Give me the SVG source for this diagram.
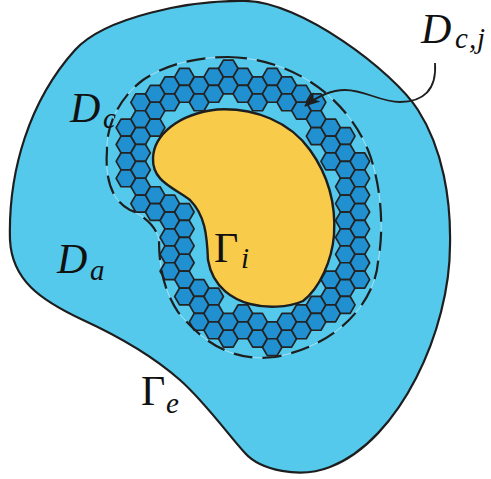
<svg xmlns="http://www.w3.org/2000/svg" xmlns:xlink="http://www.w3.org/1999/xlink" width="491" height="479" viewBox="0 0 491 479">
<style>
.lbl{font-family:"Liberation Serif","DejaVu Serif",serif;fill:#111}
.it{font-style:italic}
.big{font-size:42px}
.sub{font-size:29px}
.hx{fill:#2090D0;stroke:#232323;stroke-width:1.7;stroke-linejoin:round}
.edge{fill:none;stroke:#1e1e1e;stroke-linejoin:round}
</style>
<defs>
<polygon id="hx" class="hx" points="-9.75,0 -4.875,-8.444 4.875,-8.444 9.75,0 4.875,8.444 -4.875,8.444"/>
<marker id="ah" markerUnits="userSpaceOnUse" viewBox="0 0 16 12" refX="15" refY="6" markerWidth="16" markerHeight="12" orient="auto">
<path d="M0,0 L16,6 L0,12 L4,6 Z" fill="#1e1e1e"/>
</marker>
</defs>
<g id="outer-domain">
<path d="M 10,240 C 8,170 30,100 75,50 C 105,17 190,0 245,1 C 300,1 393,71 418,110 C 443,149 451,200 450,245 C 450,330 400,440 330,467 C 300,479 260,470 245,453 C 230,437 205,402 180,380 C 155,358 120,337 83,320 C 40,300 12,280 10,240 Z" fill="#55C9EC" stroke="#1e1e1e" stroke-width="2.2"/>
</g>
<g id="dc-boundary">
<path id="dc" d="M 228,57 C 290,58 345,95 368,150 C 380,180 385,225 378,262 C 375,300 340,345 275,357 C 235,362 205,345 178,312 C 165,292 159,270 159,240 C 157,228 145,216 130,210 C 110,200 105,175 107,150 C 106,125 120,97 143,80 C 165,65 195,57 228,57 Z" fill="none" stroke="#bfe9f7" stroke-width="0.8"/>
</g>
<g id="cells">
<use href="#hx" x="125.9" y="127.6"/><use href="#hx" x="125.9" y="144.5"/><use href="#hx" x="125.9" y="161.4"/><use href="#hx" x="125.9" y="178.3"/>
<use href="#hx" x="140.6" y="102.3"/><use href="#hx" x="140.6" y="119.2"/><use href="#hx" x="140.6" y="136.1"/><use href="#hx" x="140.6" y="152.9"/><use href="#hx" x="140.6" y="169.8"/><use href="#hx" x="140.6" y="186.7"/><use href="#hx" x="140.6" y="203.6"/>
<use href="#hx" x="155.2" y="93.8"/><use href="#hx" x="155.2" y="110.7"/><use href="#hx" x="155.2" y="127.6"/><use href="#hx" x="155.2" y="195.2"/><use href="#hx" x="155.2" y="212.0"/>
<use href="#hx" x="169.8" y="85.4"/><use href="#hx" x="169.8" y="102.3"/><use href="#hx" x="169.8" y="203.6"/><use href="#hx" x="169.8" y="220.5"/><use href="#hx" x="169.8" y="237.4"/><use href="#hx" x="169.8" y="254.3"/><use href="#hx" x="169.8" y="271.2"/>
<use href="#hx" x="184.4" y="76.9"/><use href="#hx" x="184.4" y="93.8"/><use href="#hx" x="184.4" y="212.0"/><use href="#hx" x="184.4" y="228.9"/><use href="#hx" x="184.4" y="245.8"/><use href="#hx" x="184.4" y="262.7"/><use href="#hx" x="184.4" y="279.6"/><use href="#hx" x="184.4" y="296.5"/>
<use href="#hx" x="199.1" y="85.4"/><use href="#hx" x="199.1" y="102.3"/><use href="#hx" x="199.1" y="288.0"/><use href="#hx" x="199.1" y="304.9"/><use href="#hx" x="199.1" y="321.8"/>
<use href="#hx" x="213.7" y="76.9"/><use href="#hx" x="213.7" y="93.8"/><use href="#hx" x="213.7" y="296.5"/><use href="#hx" x="213.7" y="313.4"/><use href="#hx" x="213.7" y="330.3"/>
<use href="#hx" x="228.3" y="68.5"/><use href="#hx" x="228.3" y="85.4"/><use href="#hx" x="228.3" y="321.8"/><use href="#hx" x="228.3" y="338.7"/>
<use href="#hx" x="242.9" y="76.9"/><use href="#hx" x="242.9" y="93.8"/><use href="#hx" x="242.9" y="313.4"/><use href="#hx" x="242.9" y="330.3"/>
<use href="#hx" x="257.6" y="85.4"/><use href="#hx" x="257.6" y="102.3"/><use href="#hx" x="257.6" y="321.8"/><use href="#hx" x="257.6" y="338.7"/>
<use href="#hx" x="272.2" y="76.9"/><use href="#hx" x="272.2" y="93.8"/><use href="#hx" x="272.2" y="330.3"/><use href="#hx" x="272.2" y="347.2"/>
<use href="#hx" x="286.8" y="85.4"/><use href="#hx" x="286.8" y="102.3"/><use href="#hx" x="286.8" y="321.8"/><use href="#hx" x="286.8" y="338.7"/>
<use href="#hx" x="301.4" y="93.8"/><use href="#hx" x="301.4" y="110.7"/><use href="#hx" x="301.4" y="313.4"/><use href="#hx" x="301.4" y="330.3"/>
<use href="#hx" x="316.1" y="102.3"/><use href="#hx" x="316.1" y="119.2"/><use href="#hx" x="316.1" y="136.1"/><use href="#hx" x="316.1" y="304.9"/><use href="#hx" x="316.1" y="321.8"/>
<use href="#hx" x="330.7" y="127.6"/><use href="#hx" x="330.7" y="144.5"/><use href="#hx" x="330.7" y="161.4"/><use href="#hx" x="330.7" y="279.6"/><use href="#hx" x="330.7" y="296.5"/><use href="#hx" x="330.7" y="313.4"/>
<use href="#hx" x="345.3" y="136.1"/><use href="#hx" x="345.3" y="152.9"/><use href="#hx" x="345.3" y="169.8"/><use href="#hx" x="345.3" y="186.7"/><use href="#hx" x="345.3" y="203.6"/><use href="#hx" x="345.3" y="220.5"/><use href="#hx" x="345.3" y="237.4"/><use href="#hx" x="345.3" y="254.3"/><use href="#hx" x="345.3" y="271.2"/><use href="#hx" x="345.3" y="288.0"/><use href="#hx" x="345.3" y="304.9"/>
<use href="#hx" x="359.9" y="161.4"/><use href="#hx" x="359.9" y="178.3"/><use href="#hx" x="359.9" y="195.2"/><use href="#hx" x="359.9" y="212.0"/><use href="#hx" x="359.9" y="228.9"/><use href="#hx" x="359.9" y="245.8"/><use href="#hx" x="359.9" y="262.7"/><use href="#hx" x="359.9" y="279.6"/>
</g>
<g id="inner-obstacle">
<path d="M 217,109.5 C 255,107.5 290,122 310,150 C 328,175 336,205 334,235 C 332,260 320,288 303,301 C 288,308 265,308 250,304 C 235,300 213,289 208,260 C 207,235 205,215 190,200 C 175,188 152,182 153,158 C 154,135 178,114 217,109.5 Z" fill="#F9CB4A" stroke="#1e1e1e" stroke-width="2.4"/>
</g>
<g id="dc-dashed">
<path d="M 228,57 C 290,58 345,95 368,150 C 380,180 385,225 378,262 C 375,300 340,345 275,357 C 235,362 205,345 178,312 C 165,292 159,270 159,240 C 157,228 145,216 130,210 C 110,200 105,175 107,150 C 106,125 120,97 143,80 C 165,65 195,57 228,57 Z" class="edge" stroke-width="2.2" stroke-dasharray="19 10"/>
</g>
<g id="connectors">
<path d="M 435,63 C 437,90 423,102 400,102 C 380,102 365,90 345,90 C 330,90 318,96 305,106" class="edge" stroke-width="1.8" marker-end="url(#ah)"/>
</g>
<g id="labels">
<text class="lbl it big" x="421" y="43">D</text><text class="lbl it sub" y="48"><tspan x="455">c</tspan><tspan x="469">,</tspan><tspan x="477">j</tspan></text>
<text class="lbl it big" x="70" y="122">D</text><text class="lbl it sub" x="103" y="128">c</text>
<text class="lbl it big" x="57" y="273">D</text><text class="lbl it sub" x="90" y="280">a</text>
<text class="lbl big" x="214" y="262">Γ</text><text class="lbl it sub" x="241" y="268">i</text>
<text class="lbl big" x="141" y="405">Γ</text><text class="lbl it sub" x="166" y="413">e</text>
</g>
</svg>
